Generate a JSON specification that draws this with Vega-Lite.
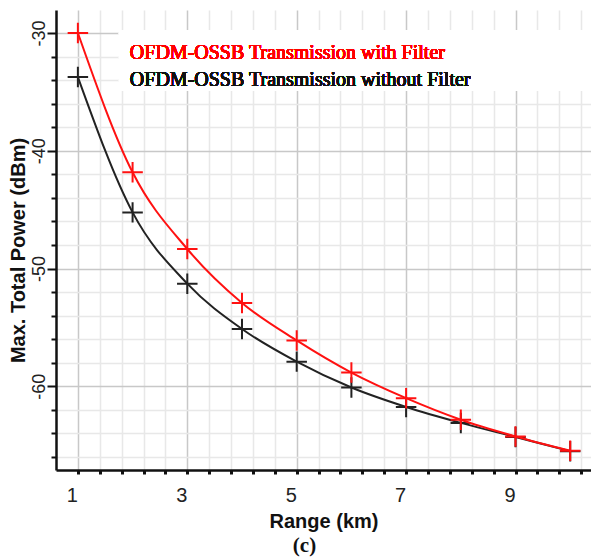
{
  "$schema": "https://vega.github.io/schema/vega-lite/v6.json",
  "width": 535,
  "height": 460,
  "autosize": {"type": "none"},
  "padding": {"left": 56, "top": 10, "right": 0, "bottom": 87},
  "background": "white",
  "config": {"view": {"stroke": null}},
  "title": {"text": "(c)", "orient": "bottom", "anchor": "middle", "frame": "group", "font": "Liberation Serif", "fontSize": 21, "fontWeight": "bold", "color": "#111", "dx": -19, "offset": 4},
  "data": {"values": [
    {"x": 1, "p": -33.74, "s": "without"},
    {"x": 2, "p": -45.23, "s": "without"},
    {"x": 3, "p": -51.28, "s": "without"},
    {"x": 4, "p": -55.13, "s": "without"},
    {"x": 5, "p": -57.9, "s": "without"},
    {"x": 6, "p": -60.1, "s": "without"},
    {"x": 7, "p": -61.75, "s": "without"},
    {"x": 8, "p": -63.1, "s": "without"},
    {"x": 9, "p": -64.3, "s": "without"},
    {"x": 10, "p": -65.5, "s": "without"},
    {"x": 1, "p": -30.0, "s": "with"},
    {"x": 2, "p": -41.83, "s": "with"},
    {"x": 3, "p": -48.34, "s": "with"},
    {"x": 4, "p": -52.92, "s": "with"},
    {"x": 5, "p": -56.1, "s": "with"},
    {"x": 6, "p": -58.83, "s": "with"},
    {"x": 7, "p": -61.0, "s": "with"},
    {"x": 8, "p": -62.83, "s": "with"},
    {"x": 9, "p": -64.25, "s": "with"},
    {"x": 10, "p": -65.46, "s": "with"}
  ]},
  "encoding": {
    "x": {"field": "x", "type": "quantitative",
      "scale": {"domain": [0.6, 10.38], "nice": false, "zero": false},
      "axis": {
        "title": "Range (km)", "titleFont": "Liberation Sans", "titleFontSize": 20, "titleFontWeight": "bold", "titleColor": "#111",
        "titleY": 57, "titleBaseline": "alphabetic",
        "values": [1, 1.4, 1.8, 2.2, 2.6, 3, 3.4, 3.8, 4.2, 4.6, 5, 5.4, 5.8, 6.2, 6.6, 7, 7.4, 7.8, 8.2, 8.6, 9, 9.4, 9.8, 10.2],
        "labelExpr": "indexof([1,3,5,7,9], datum.value) >= 0 ? toString(datum.value) : ''",
        "labelFont": "Liberation Sans", "labelFontSize": 20, "labelColor": "#222", "labelPadding": 11, "labelOffset": -6,
        "labelFlush": false, "labelOverlap": false,
        "domainColor": "#111", "domainWidth": 2.5,
        "tickColor": "#111", "tickWidth": 3, "tickSize": 4,
        "grid": true,
        "gridColor": {"condition": {"test": "indexof([1,3,5,7,9], datum.value) >= 0", "value": "#c8c8c8"}, "value": "#e8e8e8"},
        "gridWidth": 1.5
      }
    },
    "y": {"field": "p", "type": "quantitative",
      "scale": {"domain": [-67.1, -28.05], "nice": false, "zero": false},
      "axis": {
        "title": "Max. Total Power (dBm)", "titleFont": "Liberation Sans", "titleFontSize": 20, "titleFontWeight": "bold", "titleColor": "#111",
        "titleAngle": 270, "titleX": -38, "titleY": 240, "titleAlign": "center", "titleBaseline": "middle",
        "values": [-28, -30, -32, -34, -36, -38, -40, -42, -44, -46, -48, -50, -52, -54, -56, -58, -60, -62, -64, -66],
        "labelExpr": "datum.value % 10 === 0 ? toString(datum.value) : ''",
        "labelFont": "Liberation Sans", "labelFontSize": 18, "labelColor": "#222", "labelAngle": 270,
        "labelAlign": "center", "labelBaseline": "alphabetic", "labelPadding": 3,
        "labelFlush": false, "labelOverlap": false,
        "domainColor": "#111", "domainWidth": 2.5,
        "tickColor": "#111", "tickWidth": 2,
        "tickSize": {"condition": {"test": "datum.value % 10 === 0", "value": 9}, "value": 5},
        "grid": true,
        "gridColor": {"condition": {"test": "datum.value % 10 === 0", "value": "#c8c8c8"}, "value": "#e8e8e8"},
        "gridWidth": 1.5
      }
    }
  },
  "layer": [
    {
      "transform": [{"filter": "datum.s === 'without'"}],
      "mark": {"type": "line", "interpolate": "monotone", "strokeWidth": 2, "color": "#222"}
    },
    {
      "transform": [{"filter": "datum.s === 'without'"}],
      "mark": {"type": "point", "shape": "M-1,0H1M0,-1V1", "size": 420, "filled": false, "strokeWidth": 2, "color": "#222", "opacity": 1}
    },
    {
      "transform": [{"filter": "datum.s === 'with'"}],
      "mark": {"type": "line", "interpolate": "monotone", "strokeWidth": 2, "color": "#ff1111"}
    },
    {
      "transform": [{"filter": "datum.s === 'with'"}],
      "mark": {"type": "point", "shape": "M-1,0H1M0,-1V1", "size": 420, "filled": false, "strokeWidth": 2, "color": "#ff1111", "opacity": 1}
    },
    {
      "mark": {"type": "rect", "fill": "white"},
      "encoding": {
        "x": {"datum": 1.75, "type": "quantitative", "title": "Range (km)"},
        "x2": {"datum": 10.38},
        "y": {"datum": -29.8, "type": "quantitative", "title": "Max. Total Power (dBm)"},
        "y2": {"datum": -34.9}
      }
    },
    {
      "mark": {"type": "text", "text": "OFDM-OSSB Transmission with Filter", "font": "Liberation Serif", "fontSize": 20, "color": "#ff0000", "align": "left", "baseline": "alphabetic"},
      "encoding": {
        "x": {"datum": 1.95, "type": "quantitative", "title": "Range (km)"},
        "y": {"datum": -32.21, "type": "quantitative", "title": "Max. Total Power (dBm)"}
      }
    },
    {
      "mark": {"type": "text", "text": "OFDM-OSSB Transmission without Filter", "font": "Liberation Serif", "fontSize": 20, "color": "#111", "align": "left", "baseline": "alphabetic"},
      "encoding": {
        "x": {"datum": 1.95, "type": "quantitative", "title": "Range (km)"},
        "y": {"datum": -34.47, "type": "quantitative", "title": "Max. Total Power (dBm)"}
      }
    }
  ]
}
